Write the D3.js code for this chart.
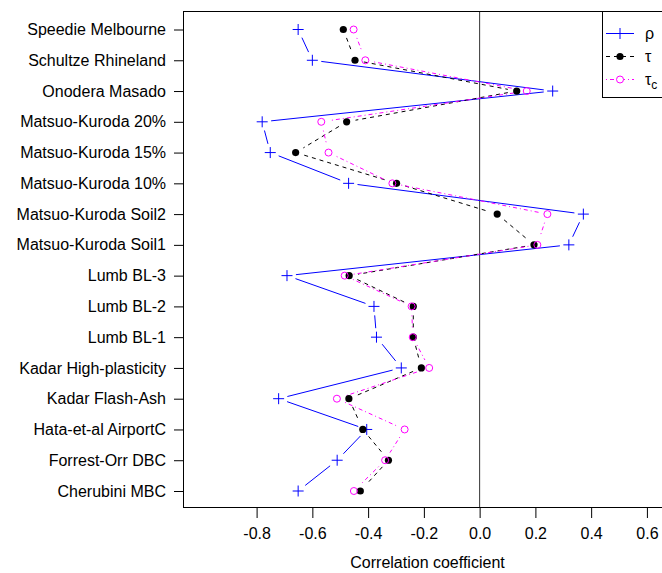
<!DOCTYPE html>
<html>
<head>
<meta charset="utf-8">
<script src="https://cdn.jsdelivr.net/npm/d3@7"></script>
<style>
  body { margin: 0; background: #fff; }
  text { font-family: "Liberation Sans", Arial, sans-serif; }
</style>
</head>
<body>
<div id="chart"></div>
<script>
/* categories, top to bottom */
var sites = ["Speedie Melbourne", "Schultze Rhineland", "Onodera Masado",
  "Matsuo-Kuroda 20%", "Matsuo-Kuroda 15%", "Matsuo-Kuroda 10%",
  "Matsuo-Kuroda Soil2", "Matsuo-Kuroda Soil1", "Lumb BL-3", "Lumb BL-2",
  "Lumb BL-1", "Kadar High-plasticity", "Kadar Flash-Ash", "Hata-et-al AirportC",
  "Forrest-Orr DBC", "Cherubini MBC"];

var rho  = [-0.651, -0.600, 0.262, -0.780, -0.751, -0.470, 0.372, 0.320,
            -0.691, -0.379, -0.370, -0.281, -0.721, -0.405, -0.511, -0.651];
var tau  = [-0.489, -0.447, 0.133, -0.477, -0.660, -0.298, 0.063, 0.195,
            -0.468, -0.238, -0.238, -0.209, -0.469, -0.419, -0.327, -0.428];
var tauC = [-0.452, -0.410, 0.169, -0.568, -0.542, -0.313, 0.243, 0.207,
            -0.484, -0.244, -0.240, -0.181, -0.512, -0.269, -0.339, -0.451];

var xTicks = [-0.8, -0.6, -0.4, -0.2, 0.0, 0.2, 0.4, 0.6];

function drawChart(){

  var w = 662, h = 573;
  var left = 183, right = 672, top = 11, bottom = 507;

  var svg = d3.select("#chart").append("svg")
              .attr("width", w)
              .attr("height", h);

  var x = d3.scaleLinear().domain([-1.064, 0.69]).range([left, right]);
  var y = d3.scalePoint().domain(sites).range([29.5, 491]);

  // zero line
  svg.append("line")
     .attr("x1", x(0)).attr("x2", x(0))
     .attr("y1", top).attr("y2", bottom)
     .style("stroke", "#333").style("stroke-width", 1);

  // axes
  var xAxis = d3.axisBottom(x).tickValues(xTicks).tickSize(11).tickPadding(10)
                .tickFormat(function(d){ return d3.format(".1f")(d).replace("−", "-"); });
  var gx = svg.append("g").attr("transform", "translate(0," + bottom + ")").call(xAxis);
  gx.select(".domain").remove();
  gx.selectAll("text").style("font-size", "16px").attr("fill", "#000");

  var yAxis = d3.axisLeft(y).tickSize(9).tickPadding(8);
  var gy = svg.append("g").attr("transform", "translate(" + left + ",0)").call(yAxis);
  gy.select(".domain").remove();
  gy.selectAll("text").style("font-size", "16px").attr("fill", "#000");

  svg.append("rect")
     .attr("x", left + 0.5).attr("y", top + 0.5)
     .attr("width", right - left).attr("height", bottom - top)
     .style("fill", "none").style("stroke", "#000");

  svg.append("text")
     .attr("x", (left + right) / 2).attr("y", 568)
     .attr("text-anchor", "middle")
     .style("font-size", "16px")
     .text("Correlation coefficient");

  // lines with gaps around points (R type "b")
  function gapLine(vals, color, dash){
    var pts = vals.map(function(v, i){ return [x(v), y(sites[i])]; });
    var gap = 9;
    for (var i = 0; i < pts.length - 1; i++){
      var a = pts[i], b = pts[i + 1];
      var dx = b[0] - a[0], dy = b[1] - a[1];
      var len = Math.sqrt(dx * dx + dy * dy);
      if (len <= 2 * gap) continue;
      var ux = dx / len, uy = dy / len;
      svg.append("line")
         .attr("x1", a[0] + ux * gap).attr("y1", a[1] + uy * gap)
         .attr("x2", b[0] - ux * gap).attr("y2", b[1] - uy * gap)
         .style("stroke", color).style("stroke-width", 1)
         .style("stroke-dasharray", dash);
    }
  }

  gapLine(rho, "#0000FF", null);
  gapLine(tau, "#000", "4,4");
  gapLine(tauC, "#FF00FF", "1,3,4,3");

  function plus(g, cx, cy){
    g.append("path")
     .attr("d", "M" + (cx - 5.5) + "," + cy + "H" + (cx + 5.5) + "M" + cx + "," + (cy - 5.5) + "V" + (cy + 5.5))
     .style("stroke", "#0000FF").style("stroke-width", 1).style("fill", "none");
  }

  var gr = svg.append("g");
  rho.forEach(function(v, i){ plus(gr, x(v), y(sites[i])); });

  svg.append("g").selectAll("circle").data(tau).enter().append("circle")
     .attr("cx", function(d){ return x(d); })
     .attr("cy", function(d, i){ return y(sites[i]); })
     .attr("r", 3.6)
     .style("fill", "#000");

  svg.append("g").selectAll("circle").data(tauC).enter().append("circle")
     .attr("cx", function(d){ return x(d); })
     .attr("cy", function(d, i){ return y(sites[i]); })
     .attr("r", 3.5)
     .style("fill", "none").style("stroke", "#FF00FF").style("stroke-width", 1);

  // legend
  var lg = svg.append("g");
  lg.append("rect")
    .attr("x", 602.5).attr("y", top + 0.5)
    .attr("width", right - 602).attr("height", 86)
    .style("fill", "#fff").style("stroke", "#000");

  var items = [
    {label: "ρ", color: "#0000FF", dash: null, sym: "plus"},
    {label: "τ", color: "#000", dash: "4,4", sym: "dot"},
    {label: "τ", sub: "c", color: "#FF00FF", dash: "1,3,4,3", sym: "ring"}
  ];

  items.forEach(function(it, i){
    var ly = 33.5 + i * 23;
    lg.append("line")
      .attr("x1", 606).attr("x2", 634).attr("y1", ly).attr("y2", ly)
      .style("stroke", it.color).style("stroke-dasharray", it.dash);
    if (it.sym == "plus") plus(lg, 620, ly);
    if (it.sym == "dot") lg.append("circle").attr("cx", 620).attr("cy", ly).attr("r", 3.6).style("fill", "#000");
    if (it.sym == "ring") lg.append("circle").attr("cx", 620).attr("cy", ly).attr("r", 3.5)
                            .style("fill", "#fff").style("stroke", it.color);
    var t = lg.append("text").attr("x", 645).attr("y", ly + 5).style("font-size", "16px").text(it.label);
    if (it.sub) t.append("tspan").attr("dy", 4).style("font-size", "12px").text(it.sub);
  });

};

drawChart();
</script>
</body>
</html>
